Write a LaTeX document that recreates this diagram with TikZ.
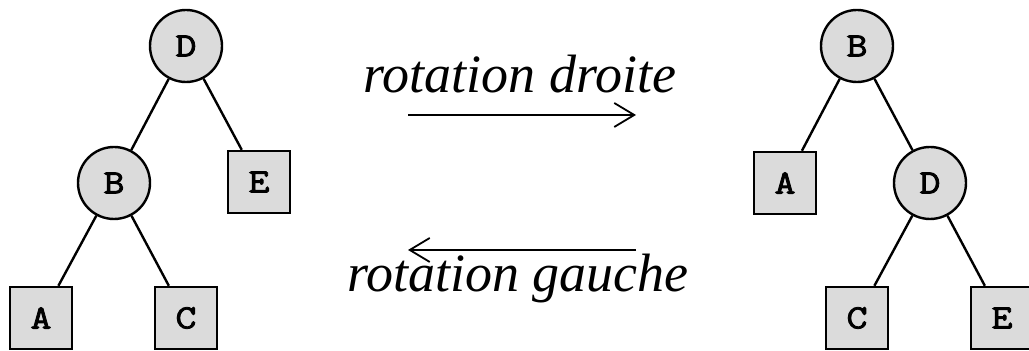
\documentclass[tikz,border=0pt]{standalone}
\usepackage{fontspec}
\setmainfont{Liberation Serif}
\newfontfamily\keyfont{Latin Modern Mono}[FakeBold=2.5, FakeStretch=1.2]
\usetikzlibrary{arrows.meta}

\begin{document}
\begin{tikzpicture}[
    x=0.5pt, y=-0.5pt,
    inner/.style={draw, circle, fill=gray!28, line width=1.2pt, minimum size=36pt, inner sep=0pt,
        font=\keyfont\fontsize{17}{18}\selectfont},
    leaf/.style={draw, rectangle, fill=gray!28, line width=1.2pt, minimum size=31pt, inner sep=0pt,
        font=\keyfont\fontsize{17}{18}\selectfont},
    link/.style={line width=1.2pt},
    rot/.style={line width=0.9pt, -{Straight Barb[length=10pt, width=12pt]}},
    caption/.style={anchor=base, inner sep=0pt, font=\itshape\fontsize{27}{30}\selectfont}
]
\useasboundingbox (0,0) rectangle (1029,351);

% left tree
\node[inner] (lD) at (186,46) {D};
\node[inner] (lB) at (114,183) {B};
\node[leaf] (lE) at (259,182) {E};
\node[leaf] (lA) at (41,318) {A};
\node[leaf] (lC) at (186,318) {C};
\draw[link] (lD) -- (lB);
\draw[link] (lD) -- (lE);
\draw[link] (lB) -- (lA);
\draw[link] (lB) -- (lC);

% right tree
\node[inner] (rB) at (857,46) {B};
\node[leaf] (rA) at (785,183) {A};
\node[inner] (rD) at (930,183) {D};
\node[leaf] (rC) at (857,318) {C};
\node[leaf] (rE) at (1002,318) {E};
\draw[link] (rB) -- (rA);
\draw[link] (rB) -- (rD);
\draw[link] (rD) -- (rC);
\draw[link] (rD) -- (rE);

% rotations
\coordinate (dw) at (408,115);
\coordinate (de) at (636,115);
\coordinate (gw) at (408,250);
\coordinate (ge) at (636,250);
\draw[rot] (dw) -- (de);
\draw[rot] (ge) -- (gw);
\node[caption] (droite) at (520,93) {rotation droite};
\node[caption] (gauche) at (518,292) {rotation gauche};

\end{tikzpicture}
\end{document}
